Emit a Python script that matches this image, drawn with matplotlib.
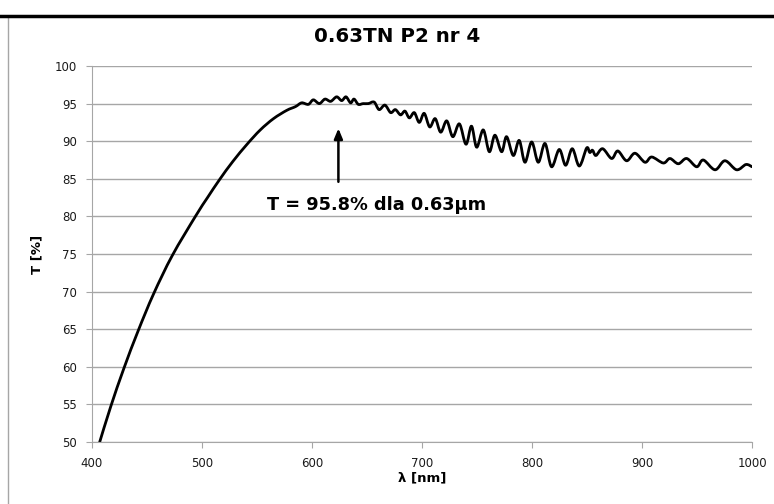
import numpy as np
import matplotlib
matplotlib.use("Agg")
import matplotlib.pyplot as plt
from matplotlib.path import Path
from matplotlib.patches import PathPatch
from matplotlib.lines import Line2D

# transmission curve: smooth rise, then ripple peaks/troughs
wavelength = [407, 417, 429, 442, 456, 473, 494, 505, 516, 528, 541, 553, 565, 577, 585,
              590.6, 596.7, 601.2, 606.7, 611.8, 617, 622.4, 627, 630.9, 635.1, 638.2, 642.1,
              646.5, 651.2, 656.5, 661, 666.3, 671.5, 675.8, 680.5, 684.5, 688.5, 693, 697.5,
              702, 707, 712, 717, 722.5, 728, 734, 740, 745, 749.7,
              755.7, 761.2, 766.3, 772.4, 776.9, 783, 788.4, 793.6, 799.7, 805.7, 811.8, 817.8,
              824.8, 830.6, 836.6, 843, 849.7, 852.5, 855, 858.1, 864.2, 872.4, 878, 886,
              893.6, 902.7, 908.8, 919.4, 925.4, 933, 940.6, 949.7, 955.7, 966.4, 975.4, 986,
              994.5, 1000]
transmission = [50.0, 54.7, 59.8, 64.8, 69.7, 74.8, 80.0, 82.5, 84.9, 87.3, 89.6, 91.5, 93.0, 94.1, 94.6,
                95.1, 94.9, 95.5, 95.0, 95.6, 95.3, 95.9, 95.4, 95.9, 95.1, 95.6, 94.9,
                95.0, 95.0, 95.2, 94.2, 94.8, 93.8, 94.2, 93.5, 94.0, 93.1, 93.8, 92.5,
                93.7, 91.9, 93.0, 91.2, 92.7, 90.6, 92.3, 89.6, 92.0, 89.2,
                91.5, 88.6, 90.8, 88.6, 90.6, 88.1, 90.1, 87.2, 89.9, 87.2, 89.7, 86.6,
                88.9, 86.8, 89.0, 86.7, 89.1, 88.5, 88.8, 88.1, 89.0, 87.7, 88.7, 87.4,
                88.4, 87.2, 87.9, 87.1, 87.7, 87.0, 87.7, 86.6, 87.5, 86.2, 87.4, 86.2,
                86.9, 86.6]

xticks = [400, 500, 600, 700, 800, 900, 1000]
yticks = [50, 55, 60, 65, 70, 75, 80, 85, 90, 95, 100]

title = "0.63TN P2 nr 4"
note = "T = 95.8% dla 0.63\u03bcm"


def smooth_path(x, y):
    # Catmull-Rom through the read points, drawn as cubic Bezier pieces
    p = np.column_stack([x, y]).astype(float)
    pad = np.vstack([p[0], p, p[-1]])
    verts = [p[0]]
    codes = [Path.MOVETO]
    for i in range(1, len(pad) - 2):
        p0, p1, p2, p3 = pad[i - 1], pad[i], pad[i + 1], pad[i + 2]
        verts += [p1 + (p2 - p0) / 6, p2 - (p3 - p1) / 6, p2]
        codes += [Path.CURVE4] * 3
    return Path(verts, codes)


grid_col = "#a6a6a6"
W, H = 774, 504

fig = plt.figure(figsize=(W / 100, H / 100), dpi=100)
ax = fig.add_axes([92 / W, 1 - 442 / H, (752 - 92) / W, (442 - 66) / H])

ax.set_xlim(400, 1000)
ax.set_ylim(50, 100)
ax.set_xticks(xticks)
ax.set_yticks(yticks)
ax.yaxis.grid(True, color=grid_col, lw=1)
ax.set_axisbelow(True)
for s in ["top", "right"]:
    ax.spines[s].set_visible(False)
for s in ["left", "bottom"]:
    ax.spines[s].set_color(grid_col)
ax.tick_params(length=4, color=grid_col, labelsize=8.5, labelcolor="#1a1a1a")
ax.tick_params(axis="y", pad=7)
ax.tick_params(axis="x", pad=6.5)

ax.add_patch(PathPatch(smooth_path(wavelength, transmission), fill=False,
                       ec="black", lw=2.0, capstyle="round", joinstyle="round"))

ax.annotate("", xy=(624, 91.7), xytext=(624, 84.6),
            arrowprops=dict(arrowstyle="-|>,head_length=0.6,head_width=0.25",
                            lw=1.8, color="black", shrinkA=0, shrinkB=0))
ax.text(559, 81.5, note, ha="left", va="center", fontsize=12.8,
        fontweight="bold")

fig.text(397 / W, 1 - 36 / H, title, ha="center", va="center", fontsize=14.3,
         fontweight="bold")
fig.text(37 / W, 1 - 254 / H, "T [%]", rotation=90, ha="center", va="center",
         fontsize=9.5, fontweight="bold")
fig.text(422 / W, 1 - 478 / H, "\u03bb [nm]", ha="center", va="center",
         fontsize=9.5, fontweight="bold")

# chart frame and the rule of the page above it
fig.add_artist(Line2D([7.5 / W, 7.5 / W], [0, 1 - 18 / H], color=grid_col, lw=1))
fig.add_artist(Line2D([0, 1], [1 - 16 / H, 1 - 16 / H], color="black", lw=2.5))

fig.savefig("out.png", dpi=100)
